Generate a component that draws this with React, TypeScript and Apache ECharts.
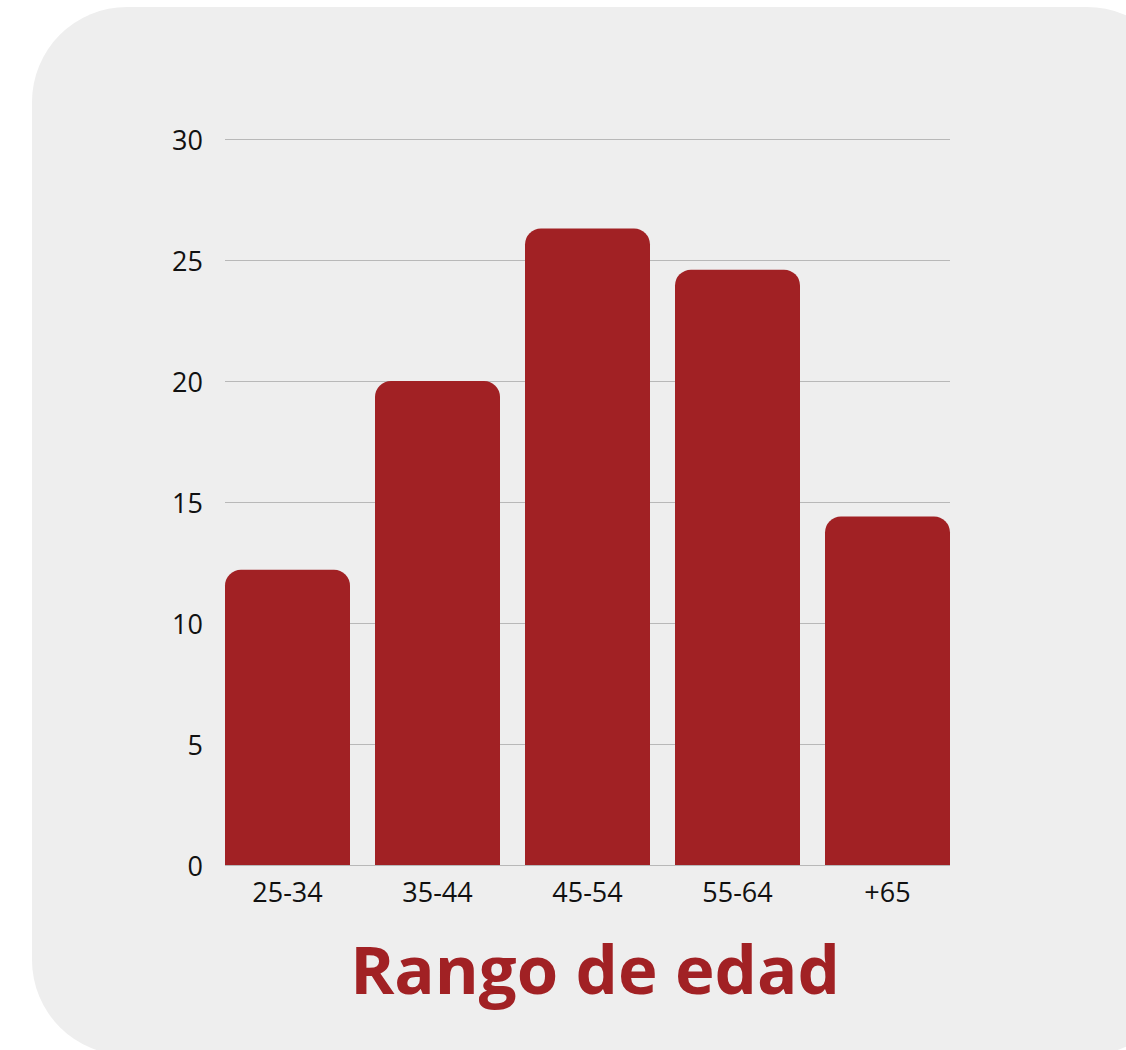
import React, { useEffect, useRef } from "react";
import * as echarts from "echarts";

const categories = ["25-34", "35-44", "45-54", "55-64", "+65"];
const values = [12.2, 20.0, 26.3, 24.6, 14.4];
const yMin = 0;
const yMax = 30;
const yStep = 5;
const titleText = "Rango de edad";

const RED = "#a12124";
const FONT = "'Open Sans', 'Noto Sans', sans-serif";

export default function App() {
  const ref = useRef<HTMLDivElement>(null);
  useEffect(() => {
    document.body.style.margin = "0";
    const chart = echarts.init(ref.current!, null, { renderer: "svg" });
    chart.setOption({
      animation: false,
      backgroundColor: "#ffffff",
      graphic: [
        {
          type: "rect",
          z: -10,
          silent: true,
          shape: { x: 32, y: 7, width: 1150, height: 1048, r: 95 },
          style: { fill: "#eeeeee" },
        },
        {
          type: "text",
          z: 10,
          x: 595,
          y: 968,
          style: {
            text: titleText,
            fill: RED,
            font: `bold 67px ${FONT}`,
            textAlign: "center",
            textVerticalAlign: "middle",
          },
        },
      ],
      grid: [
        { left: 212.5, width: 750, top: 139, height: 726, containLabel: false },
        { left: 225, width: 725, top: 139, height: 726, containLabel: false },
      ],
      xAxis: [
        {
          type: "category",
          gridIndex: 0,
          data: categories,
          axisLine: { show: false },
          axisTick: { show: false },
          axisLabel: {
            color: "#111111",
            fontSize: 27,
            fontFamily: FONT,
            margin: 13,
          },
        },
        { type: "value", gridIndex: 1, min: 0, max: 1, show: false },
      ],
      yAxis: [
        { type: "value", gridIndex: 0, min: yMin, max: yMax, interval: yStep, show: false },
        {
          type: "value",
          gridIndex: 1,
          min: yMin,
          max: yMax,
          interval: yStep,
          axisLine: { show: false },
          axisTick: { show: false },
          axisLabel: {
            color: "#111111",
            fontSize: 27,
            fontFamily: FONT,
            margin: 22,
          },
          splitLine: { lineStyle: { color: "#b8b8b8", width: 1 } },
        },
      ],
      series: [
        {
          type: "bar",
          xAxisIndex: 0,
          yAxisIndex: 0,
          data: values,
          barWidth: 125,
          itemStyle: { color: RED, borderRadius: [16, 16, 0, 0] },
        },
      ],
    });
    return () => chart.dispose();
  }, []);
  return (
    <div
      ref={ref}
      style={{ position: "absolute", left: 0, top: 0, width: 1126, height: 1050 }}
    />
  );
}
